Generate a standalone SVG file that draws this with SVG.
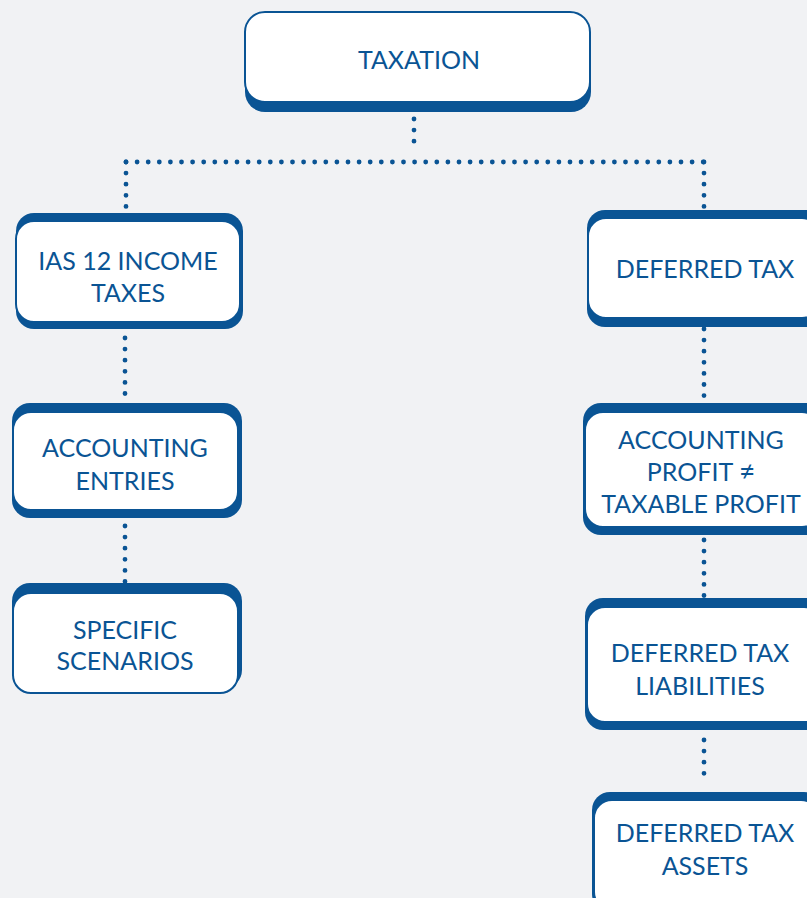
<svg xmlns="http://www.w3.org/2000/svg" width="807" height="898" viewBox="0 0 807 898">
  <style>
    .back { fill: #0a5494; }
    .face { fill: #ffffff; stroke: #0a5494; stroke-width: 2; }
    .label { font-family: Lato, "Liberation Sans", sans-serif; font-size: 25px; fill: #0a5494; text-anchor: middle; }
    .dots { fill: none; stroke: #0a5494; stroke-width: 4.8; stroke-linecap: round; stroke-dasharray: 0 11.1; }
  </style>
  <rect x="0" y="0" width="807" height="898" fill="#f1f2f4"/>

  <!-- dotted tree links -->
  <g id="connectors">
    <path class="dots" d="M414 119 V152"/>
    <path class="dots" d="M126 162 H704"/>
    <path class="dots" d="M126 162 V207"/>
    <path class="dots" d="M704 162 V207"/>
    <path class="dots" d="M125 338 V394"/>
    <path class="dots" d="M125 526 V582"/>
    <path class="dots" d="M704 329 V396"/>
    <path class="dots" d="M704 540 V596"/>
    <path class="dots" d="M704 740 V784"/>
  </g>

  <g id="taxation">
    <rect class="back" x="245" y="20" width="346" height="92" rx="20"/>
    <rect class="face" x="245" y="12" width="345" height="90" rx="20"/>
    <text class="label" x="419" y="69">TAXATION</text>
  </g>

  <g id="ias12">
    <rect class="back" x="16" y="213" width="227" height="116" rx="18"/>
    <rect class="face" x="16" y="221" width="224" height="101" rx="18"/>
    <text class="label" x="128" y="270">IAS 12 INCOME</text>
    <text class="label" x="128" y="302">TAXES</text>
  </g>

  <g id="accounting-entries">
    <rect class="back" x="12" y="403" width="230" height="115" rx="18"/>
    <rect class="face" x="13" y="412" width="225" height="98" rx="18"/>
    <text class="label" x="125" y="457">ACCOUNTING</text>
    <text class="label" x="125" y="490">ENTRIES</text>
  </g>

  <g id="specific-scenarios">
    <rect class="back" x="12" y="583" width="230" height="105" rx="18"/>
    <rect class="face" x="13" y="593" width="225" height="100" rx="18"/>
    <text class="label" x="125" y="639">SPECIFIC</text>
    <text class="label" x="125" y="670">SCENARIOS</text>
  </g>

  <g id="deferred-tax">
    <rect class="back" x="587" y="210" width="240" height="117" rx="18"/>
    <rect class="face" x="588" y="218" width="232" height="100" rx="18"/>
    <text class="label" x="705" y="278">DEFERRED TAX</text>
  </g>

  <g id="profit-difference">
    <rect class="back" x="583" y="403" width="240" height="132" rx="18"/>
    <rect class="face" x="585" y="412" width="235" height="115" rx="18"/>
    <text class="label" x="701" y="449">ACCOUNTING</text>
    <text class="label" x="701" y="481">PROFIT <tspan font-size="28">≠</tspan></text>
    <text class="label" x="701" y="513">TAXABLE PROFIT</text>
  </g>

  <g id="deferred-tax-liabilities">
    <rect class="back" x="585" y="598" width="240" height="132" rx="18"/>
    <rect class="face" x="587" y="607" width="235" height="115" rx="18"/>
    <text class="label" x="700" y="662">DEFERRED TAX</text>
    <text class="label" x="700" y="695">LIABILITIES</text>
  </g>

  <g id="deferred-tax-assets">
    <rect class="back" x="592" y="792" width="230" height="120" rx="18"/>
    <rect class="face" x="594" y="800" width="225" height="110" rx="18"/>
    <text class="label" x="705" y="842">DEFERRED TAX</text>
    <text class="label" x="705" y="875">ASSETS</text>
  </g>
</svg>
